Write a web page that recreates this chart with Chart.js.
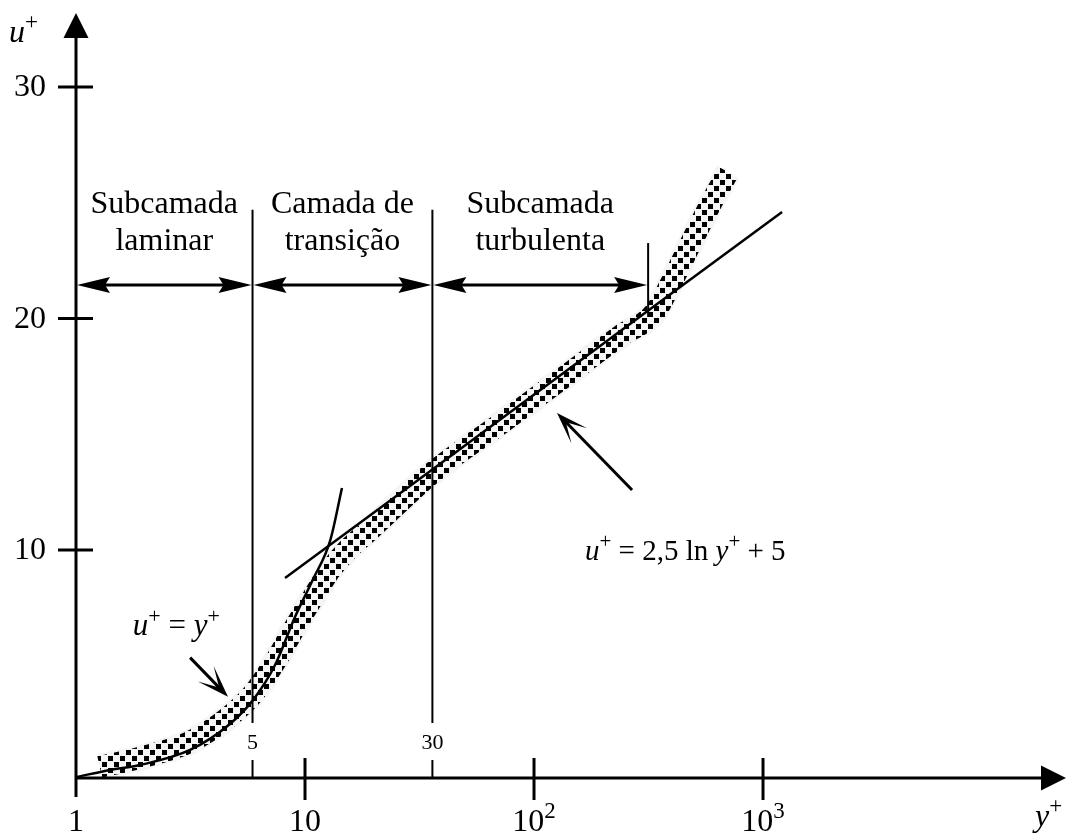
<!DOCTYPE html>
<html>
<head>
<meta charset="utf-8">
<script src="https://cdn.jsdelivr.net/npm/chart.js@4.4.1/dist/chart.umd.min.js"></script>
<style>
  html, body { margin: 0; padding: 0; background: #fff; }
  #wrap { width: 1068px; height: 836px; }
</style>
</head>
<body>
<div id="wrap"><canvas id="chart" width="1068" height="836"></canvas></div>
<script>
// --- DATA ---

// solid curve u+ = y+ as drawn
const viscX = [1.0, 1.41, 1.90, 3.15, 4.70, 5.93, 7.40, 9.04, 10.8, 12.9, 14.5];
const viscU = [0.19, 0.50, 0.71, 1.36, 2.48, 3.52, 5.03, 7.11, 8.70, 10.43, 12.68];

// straight line u+ = 2,5 ln y+ + 5 as drawn
const logX = [8.18, 1211];
const logU = [8.79, 24.6];

// dotted band of measurements
const bandX = [1.27, 1.90, 3.15, 4.70, 5.93, 7.40, 9.04, 10.8, 12.9, 15.3, 19.2, 35.9, 71.0, 130, 237, 338, 393, 480, 587, 704];
const bandU = [0.63, 1.02, 1.71, 2.83, 3.78, 5.16, 6.67, 7.93, 9.14, 10.0, 10.86, 13.33, 15.44, 17.34, 19.24, 20.28, 21.45, 23.18, 24.90, 26.33];

// zones
const zoneEdges = [1, 5.9, 36, 315];
const zoneNames = [['Subcamada', 'laminar'], ['Camada de', 'transição'], ['Subcamada', 'turbulenta']];
const edgeLabels = ['', '5', '30', ''];
const zoneArrowU = 21.45;
const edgeTopU = [0, 24.7, 24.7, 23.26];

// axis ticks
const xTickVals = [1, 10, 100, 1000];
const xTickText = ['1', '10', '10', '10'];
const xTickSup = ['', '', '2', '3'];
const yTickVals = [10, 20, 30];

// annotation arrows (tail -> tip)
const noteTailX = [3.15, 268];
const noteTailU = [5.35, 12.59];
const noteTipX = [4.61, 126];
const noteTipU = [3.66, 15.92];

// --- HELPERS ---
const serif = '"Liberation Serif", "Times New Roman", serif';
const pts = (xs, us) => xs.map((x, i) => ({ x: x, y: us[i] }));

function arrowHead(ctx, x, y, angle, len, half, notch) {
    ctx.save();
    ctx.translate(x, y);
    ctx.rotate(angle);
    ctx.beginPath();
    ctx.moveTo(0, 0);
    ctx.lineTo(-len, -half);
    ctx.lineTo(-len * (1 - notch), 0);
    ctx.lineTo(-len, half);
    ctx.closePath();
    ctx.fill();
    ctx.restore();
}

// parts: [text, italic, superscript]
function rich(ctx, parts, x, y, size, align) {
    const supSize = Math.round(size * 0.72);
    const fontOf = p => (p[1] ? 'italic ' : '') + (p[2] ? supSize : size) + 'px ' + serif;
    const widths = parts.map(p => { ctx.font = fontOf(p); return ctx.measureText(p[0]).width; });
    const total = widths.reduce((a, b) => a + b, 0);
    let cx = align === 'center' ? x - total / 2 : (align === 'right' ? x - total : x);
    ctx.textAlign = 'left';
    parts.forEach((p, i) => {
        ctx.font = fontOf(p);
        ctx.fillText(p[0], cx, p[2] ? y - size * 0.4 : y);
        cx += widths[i];
    });
}

// checkered dot pattern for the measured band
const canvas = document.getElementById('chart');
const tile = document.createElement('canvas');
tile.width = 12; tile.height = 12;
const tctx = tile.getContext('2d');
tctx.fillStyle = '#000';
tctx.fillRect(0, 0, 5, 5);
tctx.fillRect(6, 6, 5, 5);
const dotPattern = canvas.getContext('2d').createPattern(tile, 'repeat');

// --- DRAWING PLUGIN (axes, zones, labels) ---
const diagram = {
    id: 'diagram',
    beforeDatasetsDraw(chart) {
        const ctx = chart.ctx;
        const xs = chart.scales.x, ys = chart.scales.y;
        const y0 = ys.getPixelForValue(ys.min);
        ctx.save();
        ctx.strokeStyle = '#000';
        ctx.fillStyle = '#000';

        // zone boundary lines
        zoneEdges.forEach((v, i) => {
            if (i === 0) return;
            const px = xs.getPixelForValue(v);
            const top = ys.getPixelForValue(edgeTopU[i]);
            ctx.lineWidth = 2;
            ctx.beginPath();
            if (edgeLabels[i]) {
                const ly = y0 - 35;
                ctx.moveTo(px, top); ctx.lineTo(px, ly - 20);
                ctx.moveTo(px, ly + 17); ctx.lineTo(px, y0);
                ctx.stroke();
                ctx.font = '22px ' + serif;
                ctx.textAlign = 'center';
                ctx.textBaseline = 'middle';
                ctx.fillText(edgeLabels[i], px, ly);
            } else {
                ctx.moveTo(px, top); ctx.lineTo(px, ys.getPixelForValue(20.07));
                ctx.stroke();
            }
        });

        // double arrows and zone names
        const ay = ys.getPixelForValue(zoneArrowU);
        for (let i = 0; i < zoneNames.length; i++) {
            const a = xs.getPixelForValue(zoneEdges[i]);
            const b = xs.getPixelForValue(zoneEdges[i + 1]);
            ctx.lineWidth = 3;
            ctx.beginPath();
            ctx.moveTo(a + 20, ay); ctx.lineTo(b - 20, ay);
            ctx.stroke();
            arrowHead(ctx, a + 1, ay, Math.PI, 33, 8, 0.15);
            arrowHead(ctx, b - 1, ay, 0, 33, 8, 0.15);
            ctx.font = '32px ' + serif;
            ctx.textAlign = 'center';
            ctx.textBaseline = 'alphabetic';
            const mid = (a + b) / 2;
            ctx.fillText(zoneNames[i][0], mid, ys.getPixelForValue(24.56));
            ctx.fillText(zoneNames[i][1], mid, ys.getPixelForValue(22.96));
        }
        ctx.restore();
    },
    afterDatasetsDraw(chart) {
        const ctx = chart.ctx;
        const xs = chart.scales.x, ys = chart.scales.y;
        const area = chart.chartArea;
        const x0 = xs.getPixelForValue(1);
        const y0 = ys.getPixelForValue(ys.min);
        ctx.save();
        ctx.strokeStyle = '#000';
        ctx.fillStyle = '#000';
        ctx.lineCap = 'butt';

        // axes with arrows
        ctx.lineWidth = 3;
        ctx.beginPath();
        ctx.moveTo(x0, y0 + 19); ctx.lineTo(x0, area.top + 20);
        ctx.moveTo(x0 - 1, y0); ctx.lineTo(area.right - 20, y0);
        ctx.stroke();
        arrowHead(ctx, x0, area.top, -Math.PI / 2, 25, 12.5, 0);
        arrowHead(ctx, area.right, y0, 0, 25, 12.5, 0);

        // x ticks
        xTickVals.forEach((v, i) => {
            const px = xs.getPixelForValue(v);
            if (v > 1) {
                ctx.lineWidth = 3;
                ctx.beginPath();
                ctx.moveTo(px, y0 - 20); ctx.lineTo(px, y0 + 22);
                ctx.stroke();
            }
            ctx.textBaseline = 'alphabetic';
            rich(ctx, [[xTickText[i], false, false], [xTickSup[i], false, true]], px, y0 + 53, 32, 'center');
        });

        // y ticks
        yTickVals.forEach(v => {
            const py = ys.getPixelForValue(v);
            ctx.lineWidth = 3;
            ctx.beginPath();
            ctx.moveTo(x0 - 18, py); ctx.lineTo(x0 + 17, py);
            ctx.stroke();
            ctx.font = '32px ' + serif;
            ctx.textAlign = 'right';
            ctx.textBaseline = 'middle';
            ctx.fillText(String(v), x0 - 30, py + 1);
        });

        // axis titles
        ctx.textBaseline = 'alphabetic';
        rich(ctx, [['u', true, false], ['+', false, true]], 9, 42, 32, 'left');
        rich(ctx, [['y', true, false], ['+', false, true]], area.right - 31, y0 + 48, 32, 'left');

        // annotation arrows
        for (let i = 0; i < noteTailX.length; i++) {
            const tx = xs.getPixelForValue(noteTailX[i]), ty = ys.getPixelForValue(noteTailU[i]);
            const hx = xs.getPixelForValue(noteTipX[i]), hy = ys.getPixelForValue(noteTipU[i]);
            const ang = Math.atan2(hy - ty, hx - tx);
            ctx.lineWidth = 3;
            ctx.beginPath();
            ctx.moveTo(tx, ty);
            ctx.lineTo(hx - 12 * Math.cos(ang), hy - 12 * Math.sin(ang));
            ctx.stroke();
            arrowHead(ctx, hx, hy, ang, 32, 11, 0.6);
        }

        // formulas
        ctx.textBaseline = 'alphabetic';
        rich(ctx, [['u', true, false], ['+', false, true], [' = ', false, false], ['y', true, false], ['+', false, true]],
            xs.getPixelForValue(1.77), ys.getPixelForValue(6.33), 31, 'left');
        rich(ctx, [['u', true, false], ['+', false, true], [' = 2,5 ln ', false, false], ['y', true, false], ['+', false, true], [' + 5', false, false]],
            xs.getPixelForValue(167), ys.getPixelForValue(9.58), 29, 'left');
        ctx.restore();
    }
};

// --- CHART ---
new Chart(canvas, {
    type: 'scatter',
    data: {
        datasets: [
            {
                data: pts(viscX, viscU),
                showLine: true,
                borderColor: '#000',
                borderWidth: 2.5,
                pointRadius: 0,
                cubicInterpolationMode: 'monotone',
                order: 0
            },
            {
                data: pts(logX, logU),
                showLine: true,
                borderColor: '#000',
                borderWidth: 2.5,
                pointRadius: 0,
                order: 1
            },
            {
                data: pts(bandX, bandU),
                showLine: true,
                borderColor: dotPattern,
                borderWidth: 22,
                borderCapStyle: 'butt',
                borderJoinStyle: 'round',
                pointRadius: 0,
                cubicInterpolationMode: 'monotone',
                order: 2
            },
            {
                data: pts(bandX, bandU),
                showLine: true,
                borderColor: 'rgba(0,0,0,0.04)',
                borderWidth: 26,
                borderCapStyle: 'butt',
                pointRadius: 0,
                cubicInterpolationMode: 'monotone',
                order: 3
            }
        ]
    },
    options: {
        responsive: false,
        animation: false,
        devicePixelRatio: 1,
        layout: { padding: { left: 76, right: 2, top: 13, bottom: 58 } },
        scales: {
            x: { type: 'logarithmic', min: 1, max: 21040, display: false },
            y: { type: 'linear', min: 0.15, max: 33.2, display: false }
        },
        plugins: {
            legend: { display: false },
            tooltip: { enabled: false }
        },
        elements: { line: { clip: false } }
    },
    plugins: [diagram]
});
</script>
</body>
</html>
